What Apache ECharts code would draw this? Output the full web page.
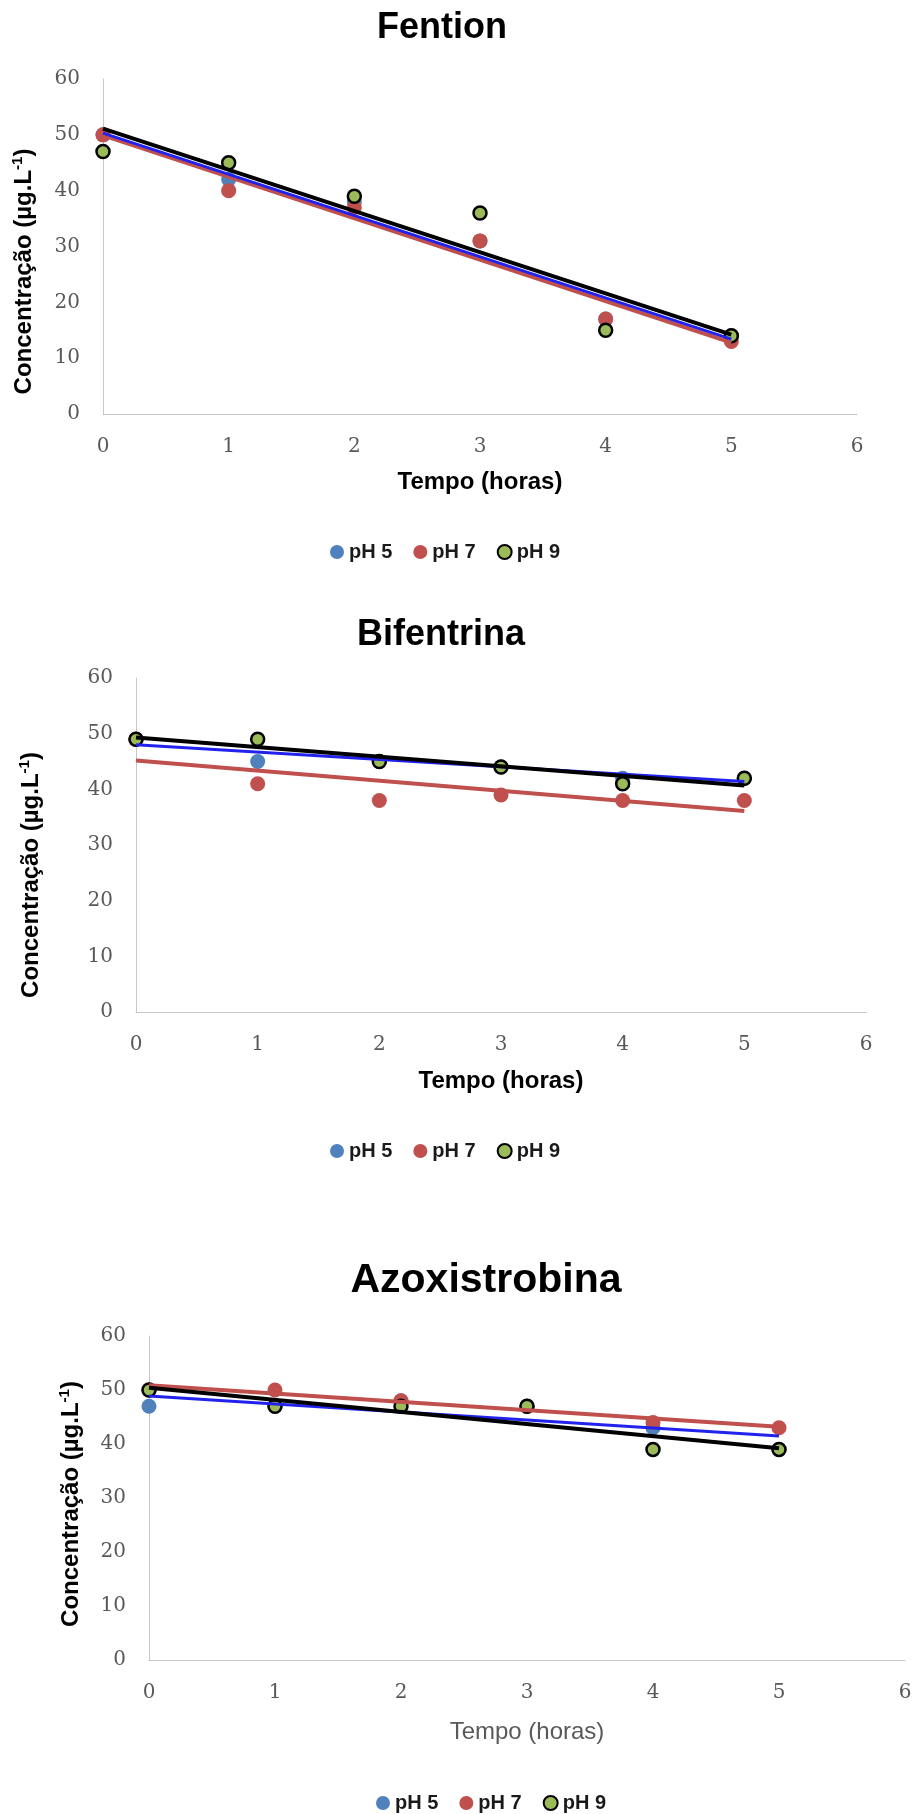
<!DOCTYPE html>
<html>
<head>
<meta charset="utf-8">
<script src="https://cdn.jsdelivr.net/npm/echarts@6/dist/echarts.min.js"></script>
<style>
  html, body { margin: 0; padding: 0; background: #ffffff; }
  #chart { width: 917px; height: 1814px; }
</style>
</head>
<body>
<div id="chart"></div>
<script>
// Sampling times (hours) and series names
const hours = [0, 1, 2, 3, 4, 5];
const phNames = ['pH 5', 'pH 7', 'pH 9'];
const chartTitles = ['Fention', 'Bifentrina', 'Azoxistrobina'];

// Fention concentrations (µg/L)
const fentionPH5 = [50, 42, 38, 31, 17, 14];
const fentionPH7 = [50, 40, 37, 31, 17, 13];
const fentionPH9 = [47, 45, 39, 36, 15, 14];
// Linear trend lines: value at 0 h and at 5 h for pH 5, pH 7, pH 9
const fentionFitAt0 = [50.3, 49.9, 51.1];
const fentionFitAt5 = [13.4, 12.8, 14.2];

// Bifentrina concentrations (µg/L)
const bifentrinaPH5 = [49, 45, 45, 44, 42, 42];
const bifentrinaPH7 = [49, 41, 38, 39, 38, 38];
const bifentrinaPH9 = [49, 49, 45, 44, 41, 42];
const bifentrinaFitAt0 = [48.0, 45.2, 49.3];
const bifentrinaFitAt5 = [41.4, 36.1, 40.7];

// Azoxistrobina concentrations (µg/L)
const azoxistrobinaPH5 = [47, 47, 48, 47, 43, 39];
const azoxistrobinaPH7 = [50, 50, 48, 47, 44, 43];
const azoxistrobinaPH9 = [50, 47, 47, 47, 39, 39];
const azoxistrobinaFitAt0 = [48.9, 50.9, 50.4];
const azoxistrobinaFitAt5 = [41.5, 43.2, 39.2];

// Axis ranges and labels
const xAxisRange = [0, 6];
const yAxisRange = [0, 60];
const xAxisTitle = 'Tempo (horas)';

// Layout of the three panels (pixels)
const panels = [
  {
    values: [fentionPH5, fentionPH7, fentionPH9], fit0: fentionFitAt0, fit5: fentionFitAt5,
    grid: { left: 103, top: 79, width: 754, height: 335 },
    titleX: 442, titleTop: 8, titleSize: 36,
    xNameGap: 56, xNameBold: true,
    yNameGap: 64, yShift: 25,
    legendLeft: 330, legendTop: 542
  },
  {
    values: [bifentrinaPH5, bifentrinaPH7, bifentrinaPH9], fit0: bifentrinaFitAt0, fit5: bifentrinaFitAt5,
    grid: { left: 136, top: 678, width: 730, height: 334 },
    titleX: 441, titleTop: 615, titleSize: 36,
    xNameGap: 57, xNameBold: true,
    yNameGap: 90, yShift: 30,
    legendLeft: 330, legendTop: 1141
  },
  {
    values: [azoxistrobinaPH5, azoxistrobinaPH7, azoxistrobinaPH9], fit0: azoxistrobinaFitAt0, fit5: azoxistrobinaFitAt5,
    grid: { left: 149, top: 1336, width: 756, height: 324 },
    titleX: 486, titleTop: 1258, titleSize: 41,
    xNameGap: 60, xNameBold: false,
    yNameGap: 63, yShift: 6,
    legendLeft: 376, legendTop: 1793
  }
];

const pointColors = ['#4F81BD', '#C0504D', '#9BBB59'];
const fitColors = ['#2222EE', '#C0504D', '#000000'];
const sansFont = 'Liberation Sans';
const tickFont = 'DejaVu Serif';

const option = {
  animation: false,
  backgroundColor: '#ffffff',
  title: [],
  legend: [],
  grid: [],
  xAxis: [],
  yAxis: [],
  series: []
};

panels.forEach((p, i) => {
  option.title.push({
    text: chartTitles[i],
    left: p.titleX,
    top: p.titleTop,
    textAlign: 'center',
    padding: 0,
    textStyle: {
      fontFamily: sansFont, fontWeight: 'bold', fontSize: p.titleSize,
      lineHeight: p.titleSize + 5, color: '#000000'
    }
  });

  option.legend.push({
    data: phNames,
    left: p.legendLeft,
    top: p.legendTop,
    padding: 0,
    icon: 'circle',
    itemWidth: 14,
    itemHeight: 14,
    itemGap: 21,
    selectedMode: false,
    textStyle: { fontFamily: sansFont, fontWeight: 'bold', fontSize: 20, color: '#1a1a1a' }
  });

  option.grid.push(Object.assign({ containLabel: false }, p.grid));

  const tickLabel = { fontFamily: tickFont, fontSize: 20, color: '#595959' };
  const axisLine = { show: true, lineStyle: { color: '#c6c6c6', width: 1 } };

  option.xAxis.push({
    type: 'value', gridIndex: i,
    min: xAxisRange[0], max: xAxisRange[1], interval: 1,
    axisLine: axisLine, axisTick: { show: false }, splitLine: { show: false },
    axisLabel: Object.assign({ margin: 23 }, tickLabel),
    name: xAxisTitle, nameLocation: 'middle', nameGap: p.xNameGap,
    nameTextStyle: p.xNameBold
      ? { fontFamily: sansFont, fontWeight: 'bold', fontSize: 24, color: '#000000' }
      : { fontFamily: sansFont, fontWeight: 'normal', fontSize: 24, color: '#595959' }
  });

  option.yAxis.push({
    type: 'value', gridIndex: i,
    min: yAxisRange[0], max: yAxisRange[1], interval: 10,
    axisLine: axisLine, axisTick: { show: false }, splitLine: { show: false },
    axisLabel: Object.assign({ margin: 23 }, tickLabel),
    name: '{t|Concentração (µg.L}{s|-1}{t|)}',
    nameLocation: 'middle', nameGap: p.yNameGap,
    nameTextStyle: {
      padding: [0, p.yShift * 2, 0, 0],
      rich: {
        t: { fontFamily: sansFont, fontWeight: 'bold', fontSize: 24, lineHeight: 29, color: '#000000' },
        s: { fontFamily: sansFont, fontWeight: 'bold', fontSize: 15, lineHeight: 15, verticalAlign: 'top', color: '#000000' }
      }
    }
  });

  // measured points
  p.values.forEach((vals, k) => {
    const isPH9 = k === 2;
    option.series.push({
      type: 'scatter', name: phNames[k],
      xAxisIndex: i, yAxisIndex: i,
      data: hours.map((h, j) => [h, vals[j]]),
      symbol: 'circle',
      symbolSize: isPH9 ? 13 : 15,
      itemStyle: isPH9
        ? { color: pointColors[k], borderColor: '#000000', borderWidth: 2.5, opacity: 1 }
        : { color: pointColors[k], opacity: 1 },
      emphasis: { disabled: true },
      z: 2
    });
  });

  // linear trend lines: pH 7 underneath, then pH 5, then pH 9 on top
  [1, 0, 2].forEach((k) => {
    option.series.push({
      type: 'line', name: phNames[k] + ' (linear)',
      xAxisIndex: i, yAxisIndex: i,
      data: [[hours[0], p.fit0[k]], [hours[hours.length - 1], p.fit5[k]]],
      showSymbol: false, symbol: 'none',
      lineStyle: { color: fitColors[k], width: k === 0 ? 3 : 4 },
      emphasis: { disabled: true },
      silent: true,
      z: 3
    });
  });
});

const chart = echarts.init(document.getElementById('chart'), null, { renderer: 'canvas' });
chart.setOption(option);
</script>
</body>
</html>
